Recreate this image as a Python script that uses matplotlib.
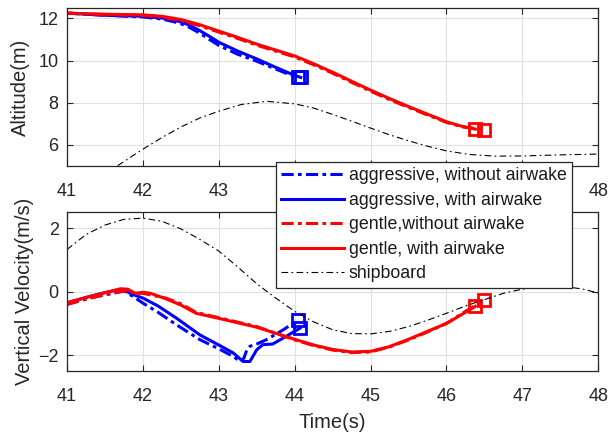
import matplotlib
matplotlib.use("Agg")
import matplotlib.pyplot as plt
from matplotlib.lines import Line2D

plt.rcParams['font.family'] = ['Liberation Sans', 'DejaVu Sans']

# ---------------- data: altitude ----------------
t_agg_wo = [41, 41.5, 42, 42.25, 42.4, 42.5, 42.6, 42.75, 42.9, 43, 43.25, 43.5, 43.75, 43.9, 44.0, 44.05]
h_agg_wo = [12.25, 12.15, 12.07, 11.97, 11.85, 11.75, 11.6, 11.3, 10.95, 10.72, 10.3, 9.97, 9.6, 9.38, 9.27, 9.2]
t_agg_w = [41, 41.5, 42, 42.25, 42.4, 42.5, 42.6, 42.75, 42.9, 43, 43.25, 43.5, 43.75, 43.9, 44.0, 44.08]
h_agg_w = [12.25, 12.15, 12.1, 12.02, 11.93, 11.83, 11.7, 11.42, 11.1, 10.87, 10.45, 10.08, 9.68, 9.45, 9.3, 9.2]
t_gen_wo = [41, 41.5, 42, 42.25, 42.5, 42.75, 43, 43.25, 43.5, 43.75, 44, 44.25, 44.5, 44.75, 45, 45.25, 45.5, 45.75, 46, 46.2, 46.49]
h_gen_wo = [12.25, 12.18, 12.14, 12.06, 11.9, 11.65, 11.35, 11.05, 10.73, 10.45, 10.17, 9.8, 9.4, 8.97, 8.55, 8.15, 7.78, 7.42, 7.07, 6.86, 6.73]
t_gen_w = [41, 41.5, 42, 42.25, 42.5, 42.75, 43, 43.25, 43.5, 43.75, 44, 44.25, 44.5, 44.75, 45, 45.25, 45.5, 45.75, 46, 46.2, 46.38]
h_gen_w = [12.25, 12.2, 12.17, 12.1, 11.95, 11.7, 11.4, 11.1, 10.78, 10.5, 10.22, 9.85, 9.45, 9.02, 8.6, 8.2, 7.82, 7.46, 7.1, 6.89, 6.75]
t_ship_h = [41.3, 41.66, 42, 42.25, 42.5, 42.75, 43, 43.3, 43.63, 44, 44.25, 44.5, 44.75, 45, 45.25, 45.5, 45.75, 46, 46.3, 46.65, 47, 47.5, 48]
h_ship = [4.5, 5.0, 5.8, 6.35, 6.85, 7.28, 7.6, 7.92, 8.07, 7.95, 7.75, 7.45, 7.13, 6.8, 6.48, 6.2, 5.94, 5.72, 5.55, 5.47, 5.48, 5.53, 5.57]

# ---------------- data: vertical velocity ----------------
tv_agg_wo = [41, 41.3, 41.5, 41.75, 41.87, 42.0, 42.2, 42.44, 42.75, 43.0, 43.19, 43.28, 43.33, 43.37, 43.41, 43.5, 43.63, 43.85, 44.04]
v_agg_wo = [-0.4, -0.2, -0.1, 0.02, -0.15, -0.36, -0.65, -1.04, -1.51, -1.8, -2.04, -2.2, -2.1, -1.83, -1.72, -1.65, -1.51, -1.2, -0.9]
tv_agg_w = [41, 41.3, 41.5, 41.72, 41.87, 42.0, 42.2, 42.44, 42.75, 43.0, 43.19, 43.32, 43.41, 43.5, 43.58, 43.71, 43.85, 44.07]
v_agg_w = [-0.35, -0.15, -0.03, 0.08, -0.09, -0.2, -0.45, -0.83, -1.36, -1.68, -1.93, -2.2, -2.2, -1.83, -1.67, -1.65, -1.46, -1.15]
tv_gen_wo = [41, 41.3, 41.5, 41.7, 41.8, 41.9, 42.0, 42.3, 42.5, 42.7, 43.0, 43.5, 44.0, 44.25, 44.5, 44.75, 45.0, 45.25, 45.5, 45.75, 46.0, 46.25, 46.49]
v_gen_wo = [-0.4, -0.2, -0.1, 0.0, 0.02, -0.05, -0.05, -0.2, -0.38, -0.65, -0.82, -1.1, -1.52, -1.7, -1.84, -1.92, -1.9, -1.74, -1.52, -1.27, -1.0, -0.62, -0.27]
tv_gen_w = [41, 41.3, 41.5, 41.7, 41.8, 41.9, 42.0, 42.1, 42.3, 42.5, 42.7, 43.0, 43.5, 44.0, 44.25, 44.5, 44.75, 45.0, 45.25, 45.5, 45.75, 46.0, 46.2, 46.38]
v_gen_w = [-0.35, -0.15, -0.03, 0.09, 0.08, -0.05, -0.02, -0.05, -0.22, -0.42, -0.68, -0.84, -1.12, -1.5, -1.68, -1.82, -1.9, -1.88, -1.73, -1.5, -1.25, -1.0, -0.72, -0.46]
tv_ship = [41, 41.25, 41.5, 41.75, 42, 42.25, 42.5, 42.75, 43, 43.25, 43.5, 43.75, 44, 44.25, 44.5, 44.75, 45, 45.25, 45.5, 45.75, 46, 46.25, 46.5, 46.75, 47, 47.25, 47.4, 47.6, 47.8, 48]
v_ship = [1.33, 1.8, 2.1, 2.28, 2.32, 2.22, 1.98, 1.65, 1.28, 0.78, 0.25, -0.2, -0.62, -0.95, -1.2, -1.32, -1.33, -1.25, -1.1, -0.9, -0.68, -0.45, -0.25, -0.05, 0.08, 0.15, 0.17, 0.15, 0.08, -0.04]

labels = ["aggressive, without airwake", "aggressive, with airwake",
          "gentle,without airwake", "gentle, with airwake", "shipboard"]
xticks = [41, 42, 43, 44, 45, 46, 47, 48]
yticks_h = [6, 8, 10, 12]
yticks_v = [-2, 0, 2]

BLUE = (0, 0, 1)
RED = (1, 0, 0)
LW = 2.2
DASHDOT = (0, (4.0, 1.4, 1.2, 1.4))
SHIP_DD = (0, (6, 3, 1.5, 3))
AXC = (0.15, 0.15, 0.15)

fig = plt.figure(figsize=(6.10, 4.37), dpi=100)
ax1 = fig.add_axes([0.1098, 0.620, 0.871, 0.362])
ax2 = fig.add_axes([0.1098, 0.151, 0.871, 0.363])


def style(ax):
    ax.set_xlim(41, 48)
    ax.set_xticks(xticks)
    ax.grid(True, color=(0.88, 0.88, 0.88), linewidth=0.8)
    ax.set_axisbelow(True)
    ax.tick_params(direction='in', top=True, right=True, labelsize=13,
                   colors=AXC, length=4, width=0.8)
    ax.tick_params(axis='x', pad=12)
    ax.tick_params(axis='y', pad=6)
    for s in ax.spines.values():
        s.set_color(AXC)
        s.set_linewidth(0.9)


def draw(ax, series, ship):
    for (t, y, ls, c) in series:
        ax.plot(t, y, color=c, linestyle=ls, linewidth=LW)
        ax.plot(t[-1], y[-1], marker='s', markersize=8, markerfacecolor='none',
                markeredgecolor=c, markeredgewidth=2, linestyle='none')
    ax.plot(ship[0], ship[1], color='k', linestyle=SHIP_DD, linewidth=0.8)


draw(ax1, [(t_agg_wo, h_agg_wo, DASHDOT, BLUE), (t_agg_w, h_agg_w, '-', BLUE),
           (t_gen_wo, h_gen_wo, DASHDOT, RED), (t_gen_w, h_gen_w, '-', RED)],
     (t_ship_h, h_ship))
draw(ax2, [(tv_agg_wo, v_agg_wo, DASHDOT, BLUE), (tv_agg_w, v_agg_w, '-', BLUE),
           (tv_gen_wo, v_gen_wo, DASHDOT, RED), (tv_gen_w, v_gen_w, '-', RED)],
     (tv_ship, v_ship))

style(ax1)
ax1.set_ylim(5, 12.5)
ax1.set_yticks(yticks_h)
ax1.set_ylabel("Altitude(m)", fontsize=14.5, color=AXC, labelpad=6)

style(ax2)
ax2.set_ylim(-2.5, 2.5)
ax2.set_yticks(yticks_v)
ax2.set_ylabel("Vertical Velocity(m/s)", fontsize=14.5, color=AXC, labelpad=3)
ax2.set_xlabel("Time(s)", fontsize=14.5, color=AXC, labelpad=6)

handles = [Line2D([], [], color=BLUE, linestyle=DASHDOT, linewidth=LW),
           Line2D([], [], color=BLUE, linestyle='-', linewidth=LW),
           Line2D([], [], color=RED, linestyle=DASHDOT, linewidth=LW),
           Line2D([], [], color=RED, linestyle='-', linewidth=LW),
           Line2D([], [], color='k', linestyle=SHIP_DD, linewidth=0.8)]
leg = fig.legend(handles, labels, loc='upper left',
                 bbox_to_anchor=(276 / 610, 1 - 162 / 437),
                 fontsize=12.8, frameon=True, fancybox=False, framealpha=1,
                 edgecolor=AXC, borderpad=0.3, labelspacing=0.42,
                 handlelength=3.5, handletextpad=0.3, borderaxespad=0)
leg.get_frame().set_linewidth(0.9)
leg.set_zorder(10)
for tx in leg.get_texts():
    tx.set_color((0.1, 0.1, 0.1))

fig.savefig("out.png", dpi=100)
